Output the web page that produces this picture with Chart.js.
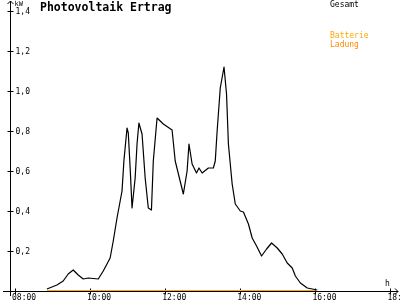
<!DOCTYPE html>
<html>
<head>
<meta charset="utf-8">
<script src="https://cdn.jsdelivr.net/npm/chart.js@4/dist/chart.umd.min.js"></script>
<style>
  body { margin: 0; background: #fff; }
  canvas { display: block; }
</style>
</head>
<body>
<canvas id="myChart" width="400" height="300"></canvas>
<script>
// Gesamt (kW) over the day
const times = ['08:51', '09:07', '09:17', '09:25', '09:33', '09:41', '09:49', '09:57', '10:13', '10:21',
  '10:32', '10:37', '10:43', '10:51', '10:54', '10:59', '11:01', '11:04', '11:07', '11:12',
  '11:15', '11:18', '11:23', '11:28', '11:33', '11:38', '11:41', '11:47', '11:57', '12:11',
  '12:16', '12:29', '12:35', '12:38', '12:43', '12:50', '12:54', '12:59', '13:09', '13:17',
  '13:20', '13:23', '13:28', '13:34', '13:38', '13:41', '13:47', '13:52', '14:00', '14:05',
  '14:13', '14:19', '14:26', '14:34', '14:42', '14:50', '14:59', '15:07', '15:15', '15:23',
  '15:28', '15:36', '15:47', '15:55', '16:03'];
const gesamt = [0.01, 0.03, 0.05, 0.085, 0.105, 0.08, 0.06, 0.065, 0.06, 0.10,
  0.165, 0.25, 0.365, 0.50, 0.65, 0.815, 0.79, 0.615, 0.415, 0.565,
  0.735, 0.84, 0.785, 0.565, 0.415, 0.405, 0.65, 0.865, 0.835, 0.805,
  0.65, 0.485, 0.60, 0.735, 0.635, 0.59, 0.615, 0.59, 0.615, 0.615,
  0.65, 0.80, 1.015, 1.12, 0.985, 0.735, 0.535, 0.435, 0.40, 0.395,
  0.335, 0.265, 0.225, 0.175, 0.21, 0.24, 0.215, 0.185, 0.14, 0.115,
  0.075, 0.04, 0.015, 0.01, 0.005];

// Batterie / Ladung stay at zero
const batTimes = ['08:51', '16:00'];
const batterie = [0, 0];
const ladung = [0, 0];

const xTicks = ['08:00', '10:00', '12:00', '14:00', '16:00', '18:00'];
const yTicks = [0.2, 0.4, 0.6, 0.8, 1.0, 1.2, 1.4];

const toMin = t => {
  const [h, m] = t.split(':').map(Number);
  return h * 60 + m;
};
const toPoints = (ts, vals) => ts.map((t, i) => ({ x: toMin(t), y: vals[i] }));

const FONT = '"DejaVu Sans Mono", monospace';

const axesPlugin = {
  id: 'axes',
  beforeDatasetsDraw(chart) {
    const { ctx, scales: { x, y } } = chart;
    const ax = Math.round(x.getPixelForValue(x.min)) + 0.5;
    const ay = Math.round(y.getPixelForValue(0)) + 0.5;
    ctx.save();
    ctx.strokeStyle = '#000';
    ctx.lineWidth = 1;
    ctx.beginPath();
    // y axis with arrow
    ctx.moveTo(ax, 296);
    ctx.lineTo(ax, 1);
    ctx.moveTo(ax - 3, 4);
    ctx.lineTo(ax, 1);
    ctx.lineTo(ax + 3, 4);
    // x axis with arrow
    ctx.moveTo(3, ay);
    ctx.lineTo(398, ay);
    ctx.moveTo(395, ay - 3);
    ctx.lineTo(398, ay);
    ctx.lineTo(395, ay + 3);
    // ticks
    yTicks.forEach(v => {
      const py = Math.round(y.getPixelForValue(v)) + 0.5;
      ctx.moveTo(ax - 3, py);
      ctx.lineTo(ax + 3, py);
    });
    xTicks.forEach(t => {
      const px = Math.round(x.getPixelForValue(toMin(t))) + 0.5;
      ctx.moveTo(px, ay - 3);
      ctx.lineTo(px, ay + 3);
    });
    ctx.stroke();

    ctx.fillStyle = '#000';
    ctx.font = '8px ' + FONT;
    ctx.textAlign = 'left';
    ctx.textBaseline = 'middle';
    yTicks.forEach(v => {
      ctx.fillText(v.toFixed(1).replace('.', ','), ax + 5, y.getPixelForValue(v) + 0.5);
    });
    ctx.textBaseline = 'top';
    xTicks.forEach(t => {
      ctx.fillText(t, x.getPixelForValue(toMin(t)) - 3, ay + 2);
    });
    ctx.textBaseline = 'alphabetic';
    ctx.fillText('h', 385, 286);
    ctx.font = '7px ' + FONT;
    ctx.textBaseline = 'top';
    ctx.fillText('kW', ax + 4, 1);

    // title
    ctx.font = 'bold 11.5px ' + FONT;
    ctx.textBaseline = 'alphabetic';
    ctx.fillText('Photovoltaik Ertrag', 40, 11);

    // legend text
    ctx.font = '8px ' + FONT;
    ctx.textBaseline = 'top';
    const legendY = [1, 32, 41];
    chart.data.datasets.forEach((ds, i) => {
      ctx.fillStyle = ds.borderColor;
      ctx.fillText(ds.label, 330, legendY[i]);
    });
    ctx.restore();
  },
};

const ctx = document.querySelector('#myChart').getContext('2d');
new Chart(ctx, {
  type: 'line',
  data: {
    datasets: [
      {
        label: 'Gesamt',
        data: toPoints(times, gesamt),
        borderColor: '#000000',
        borderWidth: 1.2,
        pointRadius: 0,
        tension: 0,
        fill: false,
      },
      {
        label: 'Batterie',
        data: toPoints(batTimes, batterie),
        borderColor: '#ffaa00',
        borderWidth: 2,
        pointRadius: 0,
        fill: false,
      },
      {
        label: 'Ladung',
        data: toPoints(batTimes, ladung),
        borderColor: '#ff8800',
        borderWidth: 2,
        pointRadius: 0,
        fill: false,
      },
    ],
  },
  options: {
    responsive: false,
    animation: false,
    devicePixelRatio: 1,
    layout: { padding: { left: 10, right: 2, top: 11, bottom: 9 } },
    plugins: {
      legend: { display: false },
      tooltip: { enabled: false },
    },
    scales: {
      x: { type: 'linear', min: 472, max: 1092, display: false },
      y: { min: 0, max: 1.4, display: false },
    },
    elements: { line: { borderJoinStyle: 'round' } },
  },
  plugins: [axesPlugin],
});
</script>
</body>
</html>
